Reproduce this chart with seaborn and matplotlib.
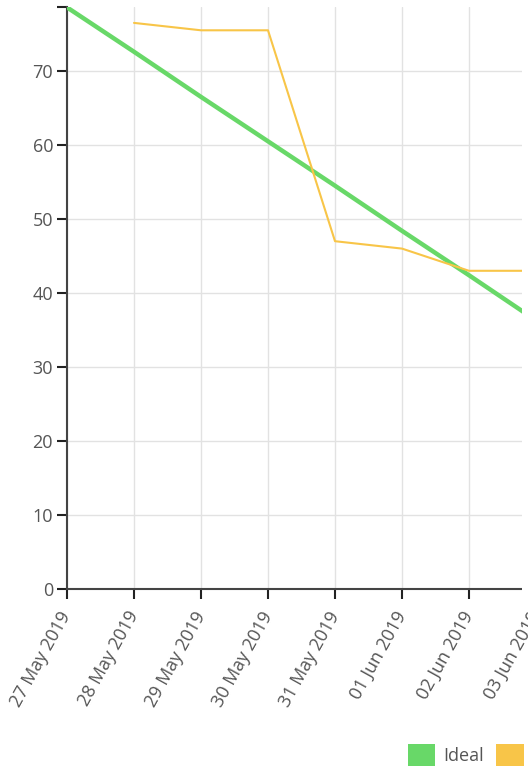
import matplotlib
matplotlib.use("Agg")
import matplotlib.pyplot as plt
import matplotlib.transforms as mtransforms
from matplotlib.patches import Patch, Rectangle
import seaborn as sns
import pandas as pd
import numpy as np

# ---- data ----
dates = ["2019-05-27", "2019-05-28", "2019-05-29", "2019-05-30",
         "2019-05-31", "2019-06-01", "2019-06-02", "2019-06-03"]
ideal = [78.6, 72.6, 66.5, 60.5, 54.5, 48.4, 42.4, 36.3]
actual_dates = ["2019-05-28", "2019-05-29", "2019-05-30", "2019-05-31",
                "2019-06-01", "2019-06-02", "2019-06-03"]
actual = [76.5, 75.5, 75.5, 47.0, 46.0, 43.0, 43.0]
yticks = [0, 10, 20, 30, 40, 50, 60, 70]
series_names = ["Ideal", "Actual"]
colors = ["#68d868", "#f8c548"]

sns.set_theme(style="white")
plt.rcParams["font.family"] = ["Open Sans", "DejaVu Sans"]

W, H = 528, 769
fig = plt.figure(figsize=(W / 100, H / 100), dpi=100)
left_px, top_px, bottom_px = 67, 7, 589
day_px = 67
n_days = 8
ax = fig.add_axes([left_px / W, 1 - bottom_px / H,
                   day_px * n_days / W, (bottom_px - top_px) / H])

df_i = pd.DataFrame({"date": pd.to_datetime(dates), "v": ideal})
df_a = pd.DataFrame({"date": pd.to_datetime(actual_dates), "v": actual})

sns.lineplot(data=df_i, x="date", y="v", ax=ax, color=colors[0], lw=3.2, zorder=3)
sns.lineplot(data=df_a, x="date", y="v", ax=ax, color=colors[1], lw=1.5, zorder=4)

d0 = pd.Timestamp(dates[0])
ax.set_xlim(d0, d0 + pd.Timedelta(days=n_days))
ymax = (bottom_px - top_px) / 7.4
ax.set_ylim(0, ymax)

FS = 13
ax.set_xticks(pd.to_datetime(dates))
ax.set_xticklabels([pd.Timestamp(d).strftime("%d %b %Y") for d in dates],
                   rotation=61, ha="right", va="center", rotation_mode="anchor")
offset = mtransforms.ScaledTranslation(3 / 100, 0, fig.dpi_scale_trans)
for lab in ax.get_xticklabels():
    lab.set_transform(lab.get_transform() + offset)
ax.set_yticks(yticks)
ax.set_yticks([ymax], minor=True)
ax.set_xlabel("")
ax.set_ylabel("")

ax.grid(True, which="major", color="#e2e2e2", lw=1.0)
ax.set_axisbelow(True)
for s in ["top", "right"]:
    ax.spines[s].set_visible(False)
for s in ["left", "bottom"]:
    ax.spines[s].set_color("#444444")
    ax.spines[s].set_linewidth(1.5)

ax.tick_params(axis="both", which="both", length=7, width=1.5, color="#222222",
               labelcolor="#555555", labelsize=FS, left=True, bottom=True,
               direction="out")
ax.tick_params(axis="y", pad=3)
ax.tick_params(axis="x", pad=10)

# the reference's drawing area is cut off at x = 522 px
fig.add_artist(Rectangle((522 / W, 1 - 594 / H), 10 / W, 600 / H,
                         transform=fig.transFigure, facecolor="white",
                         edgecolor="none", zorder=20))

handles = [Patch(facecolor=c, edgecolor="none") for c in colors]
fig.legend(handles, series_names, loc="lower left",
           bbox_to_anchor=(408 / W, 3 / H), ncol=2, frameon=False,
           fontsize=FS, handlelength=1.5, handleheight=1.5,
           handletextpad=0.45, columnspacing=0.7, borderpad=0,
           borderaxespad=0, labelcolor="#555555")

fig.savefig("out.png", dpi=100)
